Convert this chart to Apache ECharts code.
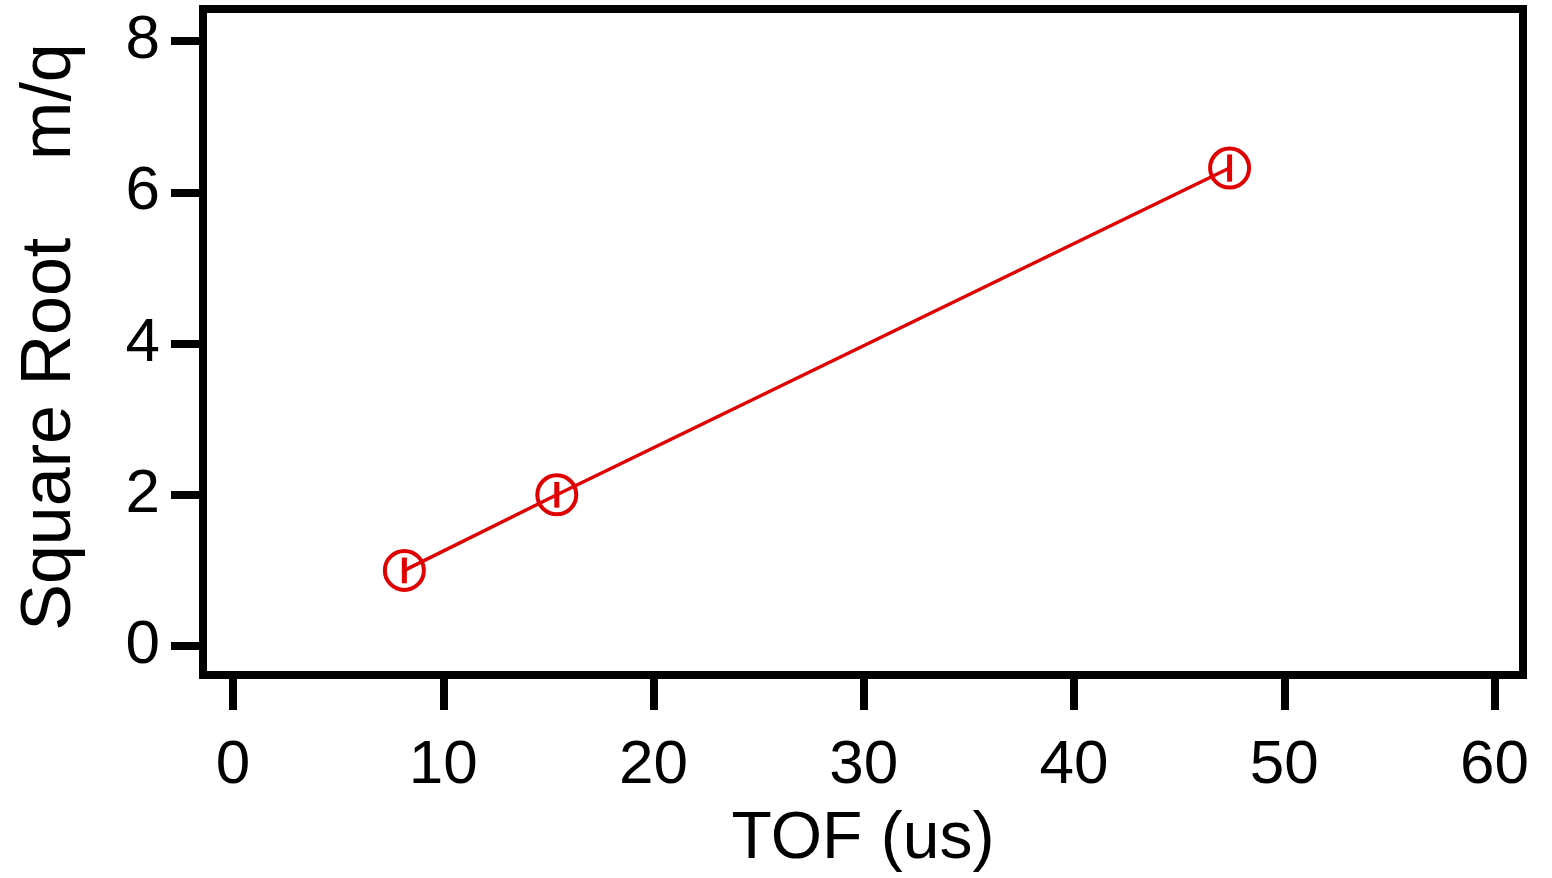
<!DOCTYPE html>
<html>
<head>
<meta charset="utf-8">
<title>TOF calibration</title>
<script src="https://cdn.jsdelivr.net/npm/echarts@6/dist/echarts.min.js"></script>
<style>
  html, body { margin: 0; padding: 0; background: #fff; }
  #chart { width: 1552px; height: 878px; }
</style>
</head>
<body>
<div id="chart"></div>
<script>
// Time of flight (us) against the square root of m/q
const tofValues = [8.15, 15.4, 47.4];
const sqrtMq = [1.0, 2.0, 6.32];
const sqrtMqErr = [0.17, 0.17, 0.18];

const xTicks = [0, 10, 20, 30, 40, 50, 60];
const yTicks = [0, 2, 4, 6, 8];

const RED = '#e00000';
const FONT = 'Liberation Sans, Arial, sans-serif';

const points = tofValues.map((x, i) => [x, sqrtMq[i]]);
const errData = tofValues.map((x, i) => [x, sqrtMq[i], sqrtMqErr[i]]);

const chart = echarts.init(document.getElementById('chart'), null, { renderer: 'canvas' });

chart.setOption({
  backgroundColor: '#fff',
  animation: false,
  grid: {
    left: 203, right: 29, top: 9, bottom: 203,
    show: true,
    borderColor: '#000',
    borderWidth: 8,
    backgroundColor: 'transparent'
  },
  xAxis: {
    type: 'value',
    min: -1.427,
    max: 61.355,
    name: 'TOF (us)',
    nameLocation: 'middle',
    nameGap: 132,
    nameTextStyle: { fontFamily: FONT, fontSize: 66, color: '#000' },
    axisLine: { show: false, onZero: false },
    splitLine: { show: false },
    axisTick: {
      show: true, inside: false, length: 35,
      customValues: xTicks,
      lineStyle: { color: '#000', width: 8 }
    },
    axisLabel: {
      customValues: xTicks,
      margin: 60,
      fontFamily: FONT, fontSize: 62, color: '#000'
    }
  },
  yAxis: {
    type: 'value',
    min: -0.383,
    max: 8.423,
    name: 'Square Root    m/q',
    nameLocation: 'middle',
    nameGap: 117,
    nameTextStyle: { fontFamily: FONT, fontSize: 70, color: '#000', padding: [0, 0, 0, 10] },
    axisLine: { show: false, onZero: false },
    splitLine: { show: false },
    axisTick: {
      show: true, inside: false, length: 32,
      customValues: yTicks,
      lineStyle: { color: '#000', width: 8 }
    },
    axisLabel: {
      customValues: yTicks,
      margin: 43,
      fontFamily: FONT, fontSize: 62, color: '#000'
    }
  },
  series: [
    {
      type: 'line',
      data: points,
      symbol: 'circle',
      symbolSize: 39,
      lineStyle: { color: RED, width: 3.5 },
      itemStyle: { color: 'rgba(0,0,0,0)', borderColor: RED, borderWidth: 4 },
      z: 2
    },
    {
      type: 'custom',
      data: errData,
      z: 3,
      renderItem: function (params, api) {
        const x = api.value(0), y = api.value(1), e = api.value(2);
        const lo = api.coord([x, y - e]);
        const hi = api.coord([x, y + e]);
        return {
          type: 'line',
          shape: { x1: lo[0], y1: lo[1], x2: hi[0], y2: hi[1] },
          style: { stroke: RED, lineWidth: 5 }
        };
      }
    }
  ]
});
</script>
</body>
</html>
